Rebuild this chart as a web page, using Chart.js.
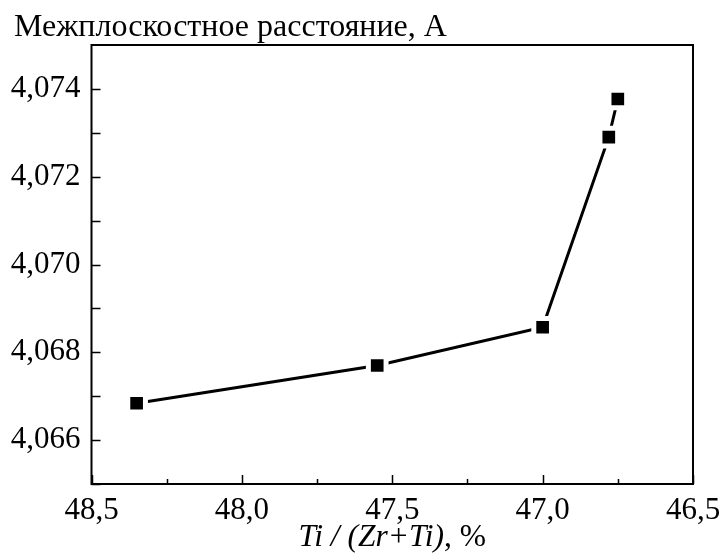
<!DOCTYPE html>
<html>
<head>
<meta charset="utf-8">
<script src="https://cdn.jsdelivr.net/npm/chart.js@4/dist/chart.umd.min.js"></script>
<style>
  html, body { margin: 0; padding: 0; background: #fff; }
  #wrap { width: 721px; height: 553px; }
</style>
</head>
<body>
<div id="wrap"><canvas id="chart" width="721" height="553"></canvas></div>
<script>
// data
const tiShare = [48.35, 47.55, 47.0, 46.78, 46.75];
const spacing = [4.06684, 4.0677, 4.06857, 4.0729, 4.07377];

const xTicks = [48.5, 48.0, 47.5, 47.0, 46.5];
const xMinor = [48.25, 47.75, 47.25, 46.75];
const yTicks = [4.066, 4.068, 4.070, 4.072, 4.074];
const yMinor = [4.065, 4.067, 4.069, 4.071, 4.073];

const yTitle = "Межплоскостное расстояние, А";
const xTitleItalic = "Ti / (Zr+Ti)";
const xTitleRest = ", %";

const FONT = "'Liberation Serif', 'Times New Roman', serif";

// frame, inward ticks and the axis titles
const framePlugin = {
  id: 'frame',
  afterDraw(chart) {
    const ctx = chart.ctx;
    const a = chart.chartArea;
    const xs = chart.scales.x, ys = chart.scales.y;
    ctx.save();
    ctx.strokeStyle = '#000';
    ctx.lineWidth = 2;
    ctx.strokeRect(a.left, a.top, a.right - a.left, a.bottom - a.top);

    ctx.lineWidth = 1.5;
    ctx.beginPath();
    xTicks.forEach(v => {
      const px = Math.round(xs.getPixelForValue(v)) + 0.5;
      ctx.moveTo(px, a.bottom); ctx.lineTo(px, a.bottom - 9);
    });
    xMinor.forEach(v => {
      const px = Math.round(xs.getPixelForValue(v)) + 0.5;
      ctx.moveTo(px, a.bottom); ctx.lineTo(px, a.bottom - 5);
    });
    yTicks.forEach(v => {
      const py = Math.round(ys.getPixelForValue(v)) + 0.5;
      ctx.moveTo(a.left, py); ctx.lineTo(a.left + 9, py);
    });
    yMinor.forEach(v => {
      const py = Math.round(ys.getPixelForValue(v)) + 0.5;
      ctx.moveTo(a.left, py); ctx.lineTo(a.left + 9, py);
    });
    ctx.stroke();

    ctx.fillStyle = '#000';
    ctx.textBaseline = 'alphabetic';
    ctx.textAlign = 'left';
    ctx.font = "32px " + FONT;
    ctx.fillText(yTitle, 14, 36);

    const italic = "italic 31.5px " + FONT;
    const normal = "31.5px " + FONT;
    ctx.font = italic;
    const w1 = ctx.measureText(xTitleItalic).width;
    ctx.font = normal;
    const w2 = ctx.measureText(xTitleRest).width;
    const cx = (a.left + a.right) / 2;
    let x0 = cx - (w1 + w2) / 2;
    ctx.font = italic;
    ctx.fillText(xTitleItalic, x0, 546);
    ctx.font = normal;
    ctx.fillText(xTitleRest, x0 + w1, 546);
    ctx.restore();
  }
};

new Chart(document.getElementById('chart').getContext('2d'), {
  type: 'line',
  data: {
    datasets: [{
      data: tiShare.map((x, i) => ({ x: x, y: spacing[i] })),
      borderColor: '#000',
      borderWidth: 3,
      pointStyle: 'rect',
      pointRadius: 12.5,
      pointHoverRadius: 12.5,
      pointBackgroundColor: '#000',
      pointBorderColor: '#fff',
      pointBorderWidth: 5,
      tension: 0,
      fill: false
    }]
  },
  options: {
    responsive: false,
    animation: false,
    events: [],
    layout: { padding: { top: 45, right: 28, left: 0, bottom: 0 } },
    plugins: {
      legend: { display: false },
      tooltip: { enabled: false },
      title: { display: false }
    },
    scales: {
      x: {
        type: 'linear',
        reverse: true,
        min: 46.5,
        max: 48.5,
        afterBuildTicks: s => { s.ticks = xTicks.map(v => ({ value: v })); },
        afterFit: s => { s.height = 69; s.paddingLeft = 0; s.paddingRight = 0; },
        grid: { display: false, drawTicks: false },
        border: { display: false },
        ticks: {
          color: '#000',
          padding: 8,
          maxRotation: 0,
          font: { family: FONT, size: 31 },
          callback: v => v.toFixed(1).replace('.', ',')
        }
      },
      y: {
        type: 'linear',
        min: 4.065,
        max: 4.075,
        afterBuildTicks: s => { s.ticks = yTicks.map(v => ({ value: v })); },
        afterFit: s => { s.width = 91.5; s.paddingTop = 0; s.paddingBottom = 0; },
        grid: { display: false, drawTicks: false },
        border: { display: false },
        ticks: {
          color: '#000',
          padding: 11,
          font: { family: FONT, size: 31 },
          callback: v => v.toFixed(3).replace('.', ',')
        }
      }
    }
  },
  plugins: [framePlugin]
});
</script>
</body>
</html>
